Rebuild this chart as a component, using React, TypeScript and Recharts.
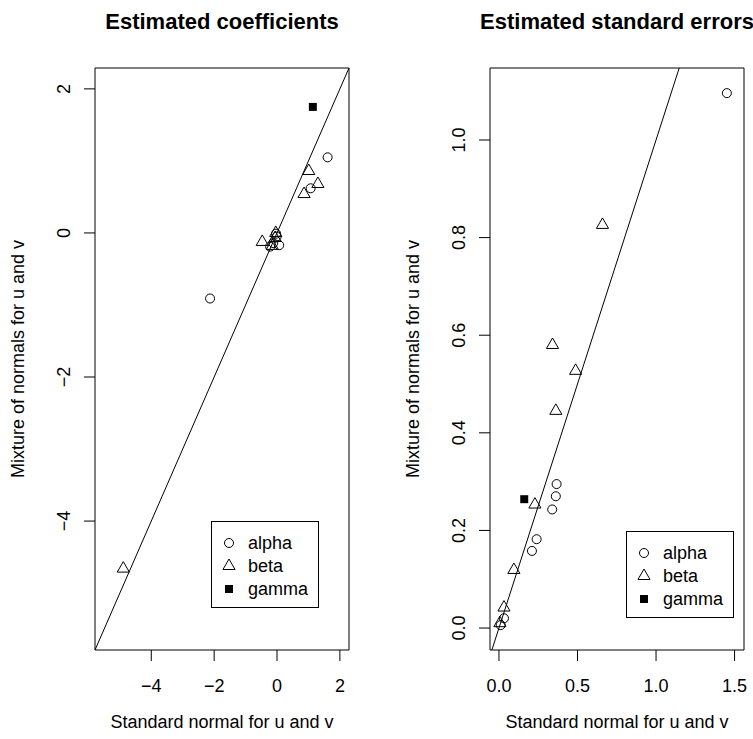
import React from "react"
import {
  ScatterChart,
  Scatter,
  XAxis,
  YAxis,
  ReferenceArea,
  ReferenceLine,
} from "recharts"

// Estimated coefficients (standard normal vs mixture of normals)
const coefAlphaX = [1.61, 1.07, -2.13, -0.03, -0.01, -0.12, 0.07, -0.22]
const coefAlphaY = [1.05, 0.62, -0.91, -0.01, -0.05, -0.14, -0.17, -0.19]
const coefBetaX = [1.01, 1.3, 0.86, -4.89, -0.47, -0.06, -0.04, -0.15]
const coefBetaY = [0.86, 0.68, 0.54, -4.66, -0.125, -0.07, 0.0, -0.18]
const coefGammaX = [1.14]
const coefGammaY = [1.75]

// Estimated standard errors
const seAlphaX = [1.451, 0.367, 0.362, 0.339, 0.24, 0.21, 0.032, 0.011]
const seAlphaY = [1.096, 0.295, 0.27, 0.243, 0.182, 0.158, 0.02, 0.006]
const seBetaX = [0.659, 0.341, 0.488, 0.362, 0.229, 0.095, 0.032, 0.006]
const seBetaY = [0.826, 0.58, 0.527, 0.445, 0.253, 0.119, 0.042, 0.01]
const seGammaX = [0.161]
const seGammaY = [0.264]

const coefTicks = [-4, -2, 0, 2]
const coefTickLabels = ["\u22124", "\u22122", "0", "2"]
const seXTicks = [0, 0.5, 1, 1.5]
const seXTickLabels = ["0.0", "0.5", "1.0", "1.5"]
const seYTicks = [0, 0.2, 0.4, 0.6, 0.8, 1.0]
const seYTickLabels = ["0.0", "0.2", "0.4", "0.6", "0.8", "1.0"]

const seriesNames = ["alpha", "beta", "gamma"]

const FONT = '"Liberation Sans", Arial, Helvetica, sans-serif'

const coefDomain: [number, number] = [-5.79, 2.29]
const seXDomain: [number, number] = [-0.057, 1.56]
const seYDomain: [number, number] = [-0.045, 1.1475]

const XLABEL_Y = 686
const XTITLE_Y = 722

const zip = (xs: number[], ys: number[]) => xs.map((x, i) => ({ x, y: ys[i] }))

const R = 4.5

const CircleMark = (p: any) => (
  <circle cx={p.cx} cy={p.cy} r={R} fill="none" stroke="#000" strokeWidth={1} />
)
const TriangleMark = (p: any) => {
  const r = 1.555 * R
  const xc = 1.347 * R
  const yc = 0.778 * R
  return (
    <polygon
      points={`${p.cx},${p.cy - r} ${p.cx + xc},${p.cy + yc} ${p.cx - xc},${p.cy + yc}`}
      fill="none"
      stroke="#000"
      strokeWidth={1}
    />
  )
}
const SquareMark = (p: any) => {
  const h = 0.886 * R
  return <rect x={p.cx - h} y={p.cy - h} width={2 * h} height={2 * h} fill="#000" />
}

const marks = [CircleMark, TriangleMark, SquareMark]

function xTick(ticks: number[], labels: string[]) {
  return (p: any) => {
    const i = ticks.findIndex((t) => Math.abs(t - p.payload.value) < 1e-9)
    return (
      <text x={p.x} y={XLABEL_Y} textAnchor="middle" dominantBaseline="central" fontSize={18} fontFamily={FONT} fill="#000">
        {labels[i]}
      </text>
    )
  }
}

function yTick(ticks: number[], labels: string[], lx: number) {
  return (p: any) => {
    const i = ticks.findIndex((t) => Math.abs(t - p.payload.value) < 1e-9)
    return (
      <text
        x={lx}
        y={p.y}
        transform={`rotate(-90, ${lx}, ${p.y})`}
        textAnchor="middle"
        dominantBaseline="central"
        fontSize={18}
        fontFamily={FONT}
        fill="#000"
      >
        {labels[i]}
      </text>
    )
  }
}

// legend box drawn in page coordinates, outside the chart layout
function LegendBox({ left, top }: any) {
  const w = 108
  const h = 87
  const rows = [22, 45, 68]
  return (
    <svg width={w} height={h} style={{ position: "absolute", left, top, display: "block" }}>
      <rect x={0.5} y={0.5} width={w - 1} height={h - 1} fill="#fff" stroke="#000" />
      {seriesNames.map((name, i) => {
        const Mark = marks[i]
        return (
          <g key={name}>
            <Mark cx={18} cy={rows[i]} />
            <text x={37} y={rows[i]} dominantBaseline="central" fontSize={18} fontFamily={FONT} fill="#000">
              {name}
            </text>
          </g>
        )
      })}
    </svg>
  )
}

const Title = ({ cx, cy, children }: any) => (
  <div
    style={{
      position: "absolute",
      left: cx - 200,
      top: cy - 13,
      width: 400,
      lineHeight: "26px",
      textAlign: "center",
      fontFamily: FONT,
      fontWeight: "bold",
      fontSize: 22,
    }}
  >
    {children}
  </div>
)

const AxisTitle = ({ cx, cy, rotate, children }: any) => (
  <div
    style={{
      position: "absolute",
      left: cx,
      top: cy,
      transform: `translate(-50%, -50%)${rotate ? " rotate(-90deg)" : ""}`,
      whiteSpace: "nowrap",
      fontFamily: FONT,
      fontSize: 18,
      lineHeight: "20px",
    }}
  >
    {children}
  </div>
)

export default function App() {
  const coefSeries = [
    zip(coefAlphaX, coefAlphaY),
    zip(coefBetaX, coefBetaY),
    zip(coefGammaX, coefGammaY),
  ]
  const seSeries = [zip(seAlphaX, seAlphaY), zip(seBetaX, seBetaY), zip(seGammaX, seGammaY)]

  return (
    <div style={{ position: "absolute", left: 0, top: 0, width: 753, height: 739, background: "#fff", overflow: "hidden" }}>
      <div style={{ position: "absolute", left: 0, top: 0 }}>
        <ScatterChart width={376} height={739} margin={{ top: 68, right: 27, bottom: 49, left: 55 }}>
          <XAxis
            type="number"
            dataKey="x"
            domain={coefDomain}
            ticks={coefTicks}
            height={40}
            axisLine={false}
            tickLine={{ stroke: "#000" }}
            tickSize={11}
            tick={xTick(coefTicks, coefTickLabels)}
            allowDataOverflow
          />
          <YAxis
            type="number"
            dataKey="y"
            domain={coefDomain}
            ticks={coefTicks}
            width={40}
            axisLine={false}
            tickLine={{ stroke: "#000" }}
            tickSize={11}
            tick={yTick(coefTicks, coefTickLabels, 64)}
            allowDataOverflow
          />
          <ReferenceArea
            x1={coefDomain[0]}
            x2={coefDomain[1]}
            y1={coefDomain[0]}
            y2={coefDomain[1]}
            fill="none"
            fillOpacity={0}
            stroke="#000"
            strokeOpacity={1}
            ifOverflow="visible"
          />
          <ReferenceLine
            segment={[
              { x: coefDomain[0], y: coefDomain[0] },
              { x: coefDomain[1], y: coefDomain[1] },
            ]}
            stroke="#000"
            strokeWidth={1}
            ifOverflow="visible"
          />
          {coefSeries.map((d, i) => (
            <Scatter key={seriesNames[i]} name={seriesNames[i]} data={d} shape={marks[i]} isAnimationActive={false} />
          ))}
        </ScatterChart>
      </div>

      <div style={{ position: "absolute", left: 376, top: 0 }}>
        <ScatterChart width={377} height={739} margin={{ top: 68, right: 9, bottom: 49, left: 74 }}>
          <XAxis
            type="number"
            dataKey="x"
            domain={seXDomain}
            ticks={seXTicks}
            height={40}
            axisLine={false}
            tickLine={{ stroke: "#000" }}
            tickSize={11}
            tick={xTick(seXTicks, seXTickLabels)}
            allowDataOverflow
          />
          <YAxis
            type="number"
            dataKey="y"
            domain={seYDomain}
            ticks={seYTicks}
            width={40}
            axisLine={false}
            tickLine={{ stroke: "#000" }}
            tickSize={11}
            tick={yTick(seYTicks, seYTickLabels, 83)}
            allowDataOverflow
          />
          <ReferenceArea
            x1={seXDomain[0]}
            x2={seXDomain[1]}
            y1={seYDomain[0]}
            y2={seYDomain[1]}
            fill="none"
            fillOpacity={0}
            stroke="#000"
            strokeOpacity={1}
            ifOverflow="visible"
          />
          <ReferenceLine
            segment={[
              { x: seYDomain[0], y: seYDomain[0] },
              { x: seYDomain[1], y: seYDomain[1] },
            ]}
            stroke="#000"
            strokeWidth={1}
            ifOverflow="visible"
          />
          {seSeries.map((d, i) => (
            <Scatter key={seriesNames[i]} name={seriesNames[i]} data={d} shape={marks[i]} isAnimationActive={false} />
          ))}
        </ScatterChart>
      </div>

      <LegendBox left={211} top={521} />
      <LegendBox left={626} top={531} />

      <Title cx={222} cy={22}>Estimated coefficients</Title>
      <Title cx={617} cy={22}>Estimated standard errors</Title>
      <AxisTitle cx={222} cy={XTITLE_Y}>Standard normal for u and v</AxisTitle>
      <AxisTitle cx={617} cy={XTITLE_Y}>Standard normal for u and v</AxisTitle>
      <AxisTitle cx={18} cy={359} rotate>Mixture of normals for u and v</AxisTitle>
      <AxisTitle cx={413} cy={359} rotate>Mixture of normals for u and v</AxisTitle>
    </div>
  )
}
